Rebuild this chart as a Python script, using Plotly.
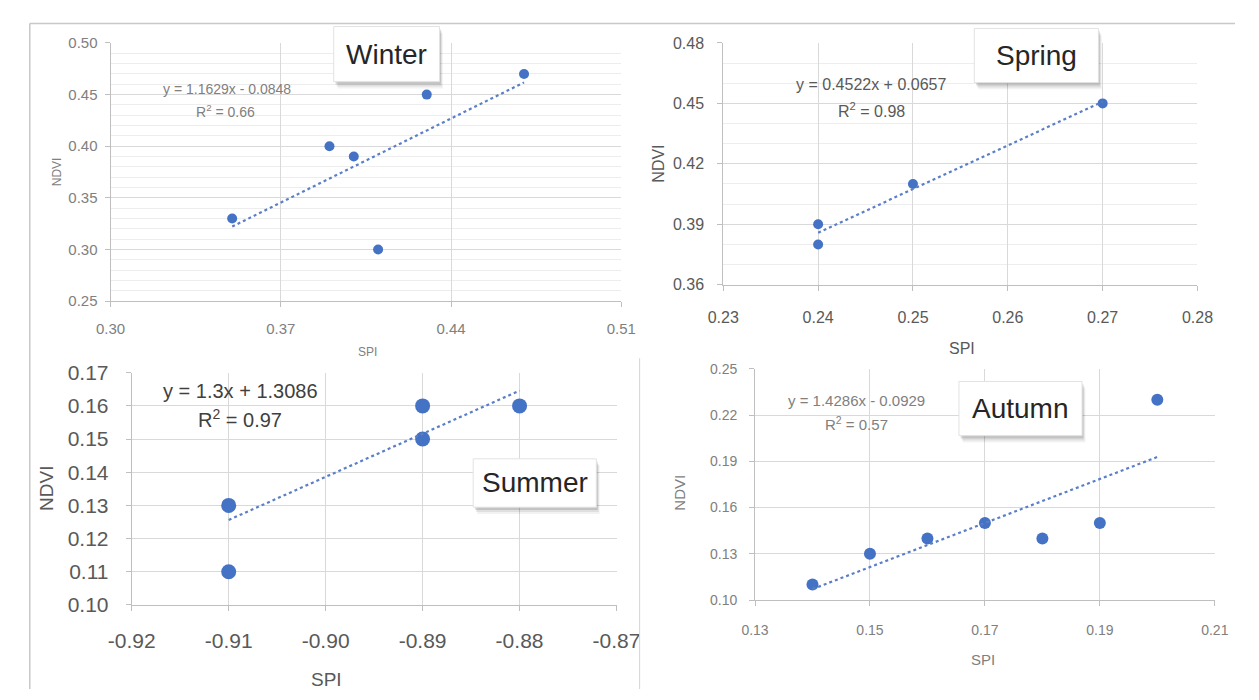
import plotly.graph_objects as go

W, H = 1259, 700

# ---------------- data ----------------
winter_spi = [0.35, 0.39, 0.40, 0.41, 0.43, 0.47]
winter_ndvi = [0.33, 0.40, 0.39, 0.30, 0.45, 0.47]
winter_fit = [1.1629, -0.0848]
winter_eq = "y = 1.1629x - 0.0848"
winter_r2 = "0.66"
winter_xticks = ["0.30", "0.37", "0.44", "0.51"]
winter_yticks = ["0.25", "0.30", "0.35", "0.40", "0.45", "0.50"]

spring_spi = [0.24, 0.24, 0.25, 0.27]
spring_ndvi = [0.39, 0.38, 0.41, 0.45]
spring_fit = [2.1667, -0.1342]          # line as drawn in the chart
spring_eq = "y = 0.4522x + 0.0657"      # label as printed in the chart
spring_r2 = "0.98"
spring_xticks = ["0.23", "0.24", "0.25", "0.26", "0.27", "0.28"]
spring_yticks = ["0.36", "0.39", "0.42", "0.45", "0.48"]

summer_spi = [-0.91, -0.91, -0.89, -0.89, -0.88]
summer_ndvi = [0.13, 0.11, 0.16, 0.15, 0.16]
summer_fit = [1.3, 1.3086]
summer_eq = "y = 1.3x + 1.3086"
summer_r2 = "0.97"
summer_xticks = ["-0.92", "-0.91", "-0.90", "-0.89", "-0.88", "-0.87"]
summer_yticks = ["0.10", "0.11", "0.12", "0.13", "0.14", "0.15", "0.16", "0.17"]

autumn_spi = [0.14, 0.15, 0.16, 0.17, 0.18, 0.19, 0.20]
autumn_ndvi = [0.11, 0.13, 0.14, 0.15, 0.14, 0.15, 0.23]
autumn_fit = [1.4286, -0.0929]
autumn_eq = "y = 1.4286x - 0.0929"
autumn_r2 = "0.57"
autumn_xticks = ["0.13", "0.15", "0.17", "0.19", "0.21"]
autumn_yticks = ["0.10", "0.13", "0.16", "0.19", "0.22", "0.25"]

season_names = ["Winter", "Spring", "Summer", "Autumn"]

# ---------------- styles / layout (pixels) ----------------
FONT = "Liberation Sans, Arial, sans-serif"
BLUE = "#4472c4"

panels = [
    dict(name=season_names[0], x=winter_spi, y=winter_ndvi, fit=winter_fit, eq=winter_eq, r2=winter_r2,
         xt=winter_xticks, yt=winter_yticks, px=(90, 621), py=(32, 299),
         tick_fs=15, tick_col="#808080", xso=9, yso=4, minor_y=0.01,
         msize=10, eq_fs=14, eq_col="#808080", eq_pos=(211, 80), r2_pos=(210, 102),
         title_fs=12, title_col="#808080", ndvi_pos=(34, 165), spi_pos=(357, 352),
         box=(322, 15, 432, 72)),
    dict(name=season_names[1], x=spring_spi, y=spring_ndvi, fit=spring_fit, eq=spring_eq, r2=spring_r2,
         xt=spring_xticks, yt=spring_yticks, px=(727, 1220), py=(32, 282),
         tick_fs=16, tick_col="#595959", xso=13, yso=10, minor_y=0.01,
         msize=10, eq_fs=16, eq_col="#595959", eq_pos=(881, 75), r2_pos=(881, 101),
         title_fs=16, title_col="#595959", ndvi_pos=(660, 157), spi_pos=(975, 348),
         box=(988, 17, 1117, 73)),
    dict(name=season_names[2], x=summer_spi, y=summer_ndvi, fit=summer_fit, eq=summer_eq, r2=summer_r2,
         xt=summer_xticks, yt=summer_yticks, px=(112, 616), py=(373, 613),
         tick_fs=21, tick_col="#595959", xso=12, yso=13, minor_y=None,
         msize=15, eq_fs=20, eq_col="#404040", eq_pos=(225, 392), r2_pos=(225, 420),
         title_fs=19, title_col="#595959", ndvi_pos=(24, 493), spi_pos=(315, 690),
         box=(467, 462, 595, 512)),
    dict(name=season_names[3], x=autumn_spi, y=autumn_ndvi, fit=autumn_fit, eq=autumn_eq, r2=autumn_r2,
         xt=autumn_xticks, yt=autumn_yticks, px=(760, 1238), py=(369, 608),
         tick_fs=14, tick_col="#808080", xso=12, yso=9, minor_y=None,
         msize=12, eq_fs=15, eq_col="#808080", eq_pos=(866, 402), r2_pos=(866, 425),
         title_fs=15, title_col="#808080", ndvi_pos=(682, 497), spi_pos=(997, 670),
         box=(972, 382, 1100, 438)),
]


def pxx(v):
    return v / W


def pxy(v):
    return 1 - v / H


fig = go.Figure()
layout = dict(width=W, height=H, margin=dict(l=0, r=0, t=0, b=0),
              paper_bgcolor="white", plot_bgcolor="white", showlegend=False)
shapes = []
annotations = []

for i, p in enumerate(panels, start=1):
    xa = "x" if i == 1 else f"x{i}"
    ya = "y" if i == 1 else f"y{i}"
    xv = [float(t) for t in p["xt"]]
    yv = [float(t) for t in p["yt"]]

    # points
    fig.add_trace(go.Scatter(x=p["x"], y=p["y"], mode="markers", xaxis=xa, yaxis=ya,
                             marker=dict(color=BLUE, size=p["msize"]), hoverinfo="skip"))
    # trend line
    x0, x1 = min(p["x"]), max(p["x"])
    a, b = p["fit"]
    fig.add_trace(go.Scatter(x=[x0, x1], y=[a * x0 + b, a * x1 + b], mode="lines",
                             xaxis=xa, yaxis=ya,
                             line=dict(color="#5b7fc7", width=2.2, dash="dot"), hoverinfo="skip"))

    common = dict(showgrid=True, gridcolor="#d9d9d9", gridwidth=1, showline=True,
                  linecolor="#bfbfbf", linewidth=1, ticks="outside", ticklen=5,
                  tickcolor="#bfbfbf", zeroline=False, fixedrange=True,
                  tickfont=dict(family=FONT, size=p["tick_fs"], color=p["tick_col"]))
    epsx = (xv[-1] - xv[0]) * 1e-6
    epsy = (yv[-1] - yv[0]) * 1e-6
    xaxis = dict(common, domain=[pxx(p["px"][0]), pxx(p["px"][1])],
                 range=[xv[0] - epsx, xv[-1] + epsx], tickmode="array",
                 tickvals=xv, ticktext=p["xt"], anchor=ya, ticklabelstandoff=p["xso"])
    yaxis = dict(common, domain=[pxy(p["py"][1]), pxy(p["py"][0])],
                 range=[yv[0] - epsy, yv[-1] + epsy], tickmode="array",
                 tickvals=yv, ticktext=p["yt"], anchor=xa, ticklabelstandoff=p["yso"])
    if p["minor_y"]:
        n = int(round((yv[-1] - yv[0]) / p["minor_y"]))
        mv = [round(yv[0] + k * p["minor_y"], 4) for k in range(n + 1)]
        mv = [m for m in mv if all(abs(m - t) > 1e-6 for t in yv)]
        yaxis["minor"] = dict(tickmode="array", tickvals=mv, showgrid=True,
                              gridcolor="#ededed", gridwidth=1, ticks="")
    layout["xaxis" if i == 1 else f"xaxis{i}"] = xaxis
    layout["yaxis" if i == 1 else f"yaxis{i}"] = yaxis

    # axis titles
    annotations.append(dict(text="NDVI", x=pxx(p["ndvi_pos"][0]), y=pxy(p["ndvi_pos"][1]),
                            xref="paper", yref="paper", showarrow=False, textangle=-90,
                            xanchor="center", yanchor="middle",
                            font=dict(family=FONT, size=p["title_fs"], color=p["title_col"])))
    annotations.append(dict(text="SPI", x=pxx(p["spi_pos"][0]), y=pxy(p["spi_pos"][1]),
                            xref="paper", yref="paper", showarrow=False,
                            xanchor="center", yanchor="middle",
                            font=dict(family=FONT, size=p["title_fs"], color=p["title_col"])))
    # equation text
    annotations.append(dict(text=p["eq"], x=pxx(p["eq_pos"][0]), y=pxy(p["eq_pos"][1]),
                            xref="paper", yref="paper", showarrow=False,
                            xanchor="center", yanchor="middle",
                            font=dict(family=FONT, size=p["eq_fs"], color=p["eq_col"])))
    annotations.append(dict(text="R<sup>2</sup> = " + p["r2"], x=pxx(p["r2_pos"][0]),
                            y=pxy(p["r2_pos"][1]), xref="paper", yref="paper", showarrow=False,
                            xanchor="center", yanchor="middle",
                            font=dict(family=FONT, size=p["eq_fs"], color=p["eq_col"])))

    # season label box with shadow
    bx0, by0, bx1, by1 = p["box"]
    for off, op in [(7, 0.05), (5, 0.08), (3, 0.12)]:
        shapes.append(dict(type="rect", xref="paper", yref="paper", layer="above",
                           x0=pxx(bx0 + off * 0.6), x1=pxx(bx1 + off * 0.5),
                           y0=pxy(by1 + off), y1=pxy(by0 + off),
                           fillcolor=f"rgba(0,0,0,{op})", line=dict(width=0)))
    shapes.append(dict(type="rect", xref="paper", yref="paper", layer="above",
                       x0=pxx(bx0), x1=pxx(bx1), y0=pxy(by1), y1=pxy(by0),
                       fillcolor="white", line=dict(color="#e2e2e2", width=1)))
    annotations.append(dict(text=p["name"], x=pxx((bx0 + bx1) / 2), y=pxy((by0 + by1) / 2),
                            xref="paper", yref="paper", showarrow=False,
                            xanchor="center", yanchor="middle",
                            font=dict(family=FONT, size=28, color="#262626")))

# outer frame lines and separator
shapes.append(dict(type="line", xref="paper", yref="paper", x0=pxx(6), x1=1, y0=pxy(12), y1=pxy(12),
                   line=dict(color="#c8c8c8", width=1.5)))
shapes.append(dict(type="line", xref="paper", yref="paper", x0=pxx(6), x1=pxx(6), y0=pxy(12), y1=0,
                   line=dict(color="#c8c8c8", width=1.5)))
shapes.append(dict(type="line", xref="paper", yref="paper", x0=pxx(640), x1=pxx(640), y0=pxy(358), y1=0,
                   line=dict(color="#d6d6d6", width=1)))

layout["shapes"] = shapes
layout["annotations"] = annotations
fig.update_layout(**layout)
fig.write_html("out.html", config={"displayModeBar": False},
               post_script="document.body.style.margin='0';document.body.style.overflow='hidden';")
